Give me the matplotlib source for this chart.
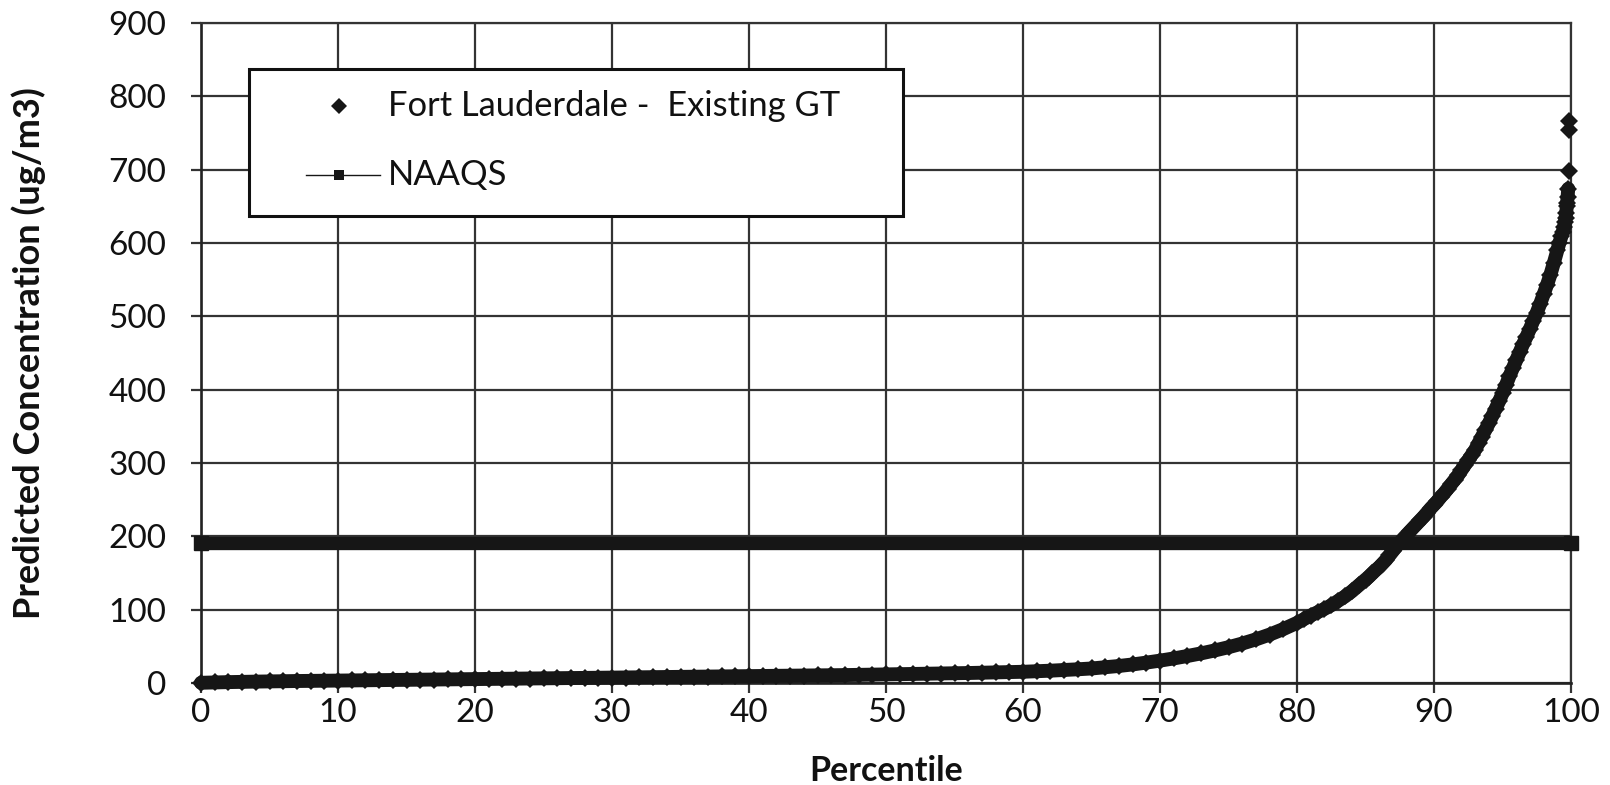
import matplotlib
matplotlib.use('Agg')
import matplotlib.pyplot as plt
from matplotlib.patches import Rectangle
from matplotlib.lines import Line2D

plt.rcParams['font.family'] = ['Lato', 'DejaVu Sans']

# ---- data ----
percentile = [
    0, 1, 2, 3, 4, 5, 6, 7, 8, 9, 10, 11, 12, 13, 14, 15, 16, 17, 18, 19,
    20, 21, 22, 23, 24, 25, 26, 27, 28, 29, 30, 31, 32, 33, 34, 35, 36, 37, 38, 39,
    40, 41, 42, 43, 44, 45, 46, 47, 48, 49, 50, 51, 52, 53, 54, 55, 56, 57, 58, 59,
    60, 61, 62, 63, 64, 65, 66, 67, 68, 69, 70, 71, 72, 73, 74, 75, 76, 77, 78, 79,
    80, 80.5, 81, 81.5, 82, 82.5, 83, 83.5, 84, 84.5,
    85, 85.25, 85.5, 85.75, 86, 86.25, 86.5, 86.75, 87, 87.25, 87.5, 87.75,
    88, 88.25, 88.5, 88.75, 89, 89.25, 89.5, 89.75,
    90, 90.25, 90.5, 90.75, 91, 91.25, 91.5, 91.75, 92, 92.25, 92.5, 92.75,
    93, 93.25, 93.5, 93.75, 94, 94.25, 94.5, 94.75, 95, 95.25, 95.5, 95.75,
    96, 96.25, 96.5, 96.75, 97, 97.25, 97.5, 97.75, 98, 98.25, 98.5, 98.75,
    99, 99.15, 99.3, 99.4, 99.5, 99.55, 99.6, 99.65, 99.7, 99.72, 99.75, 99.8,
    99.82, 99.85, 99.86,
]
concentration = [
    0.3, 0.8, 1.2, 1.6, 1.9, 2.2, 2.5, 2.7, 2.9, 3.1, 3.3, 3.5, 3.7, 3.9, 4.1, 4.3, 4.5, 4.7, 4.9, 5.1,
    5.3, 5.5, 5.7, 5.9, 6.1, 6.3, 6.5, 6.7, 6.9, 7.1, 7.3, 7.5, 7.7, 7.9, 8.1, 8.3, 8.5, 8.7, 8.9, 9.1,
    9.3, 9.5, 9.7, 9.9, 10.1, 10.3, 10.5, 10.8, 11.1, 11.4, 11.7, 12.0, 12.3, 12.6, 12.9, 13.2, 13.6, 14.0, 14.4, 14.8,
    15.3, 16.0, 16.8, 17.7, 18.7, 19.8, 21.5, 23.2, 25.3, 27.8, 30.5, 33.5, 36.8, 40.4, 44.4, 48.8, 53.8, 59.5, 66, 73.5,
    82, 87, 92, 96.5, 101, 106, 112, 118, 125, 133,
    141, 145, 149.5, 154, 158, 163, 168, 174, 180, 186, 191.5, 197,
    202, 207, 212, 217, 222, 227, 232.5, 238,
    243, 248, 254, 259, 265, 271, 277, 283, 290, 297, 304, 311,
    318, 327, 336, 345, 354, 364, 374, 384, 395, 406, 418, 429,
    440, 451, 462, 472, 483, 494, 505, 517, 530, 543, 557, 573,
    590, 600, 609, 615, 622, 628, 634, 641, 650, 655, 663, 674,
    698, 754, 766,
]
naaqs_percentile = [0, 100]
naaqs_value = [191, 191]

x_ticks = [0, 10, 20, 30, 40, 50, 60, 70, 80, 90, 100]
y_ticks = [0, 100, 200, 300, 400, 500, 600, 700, 800, 900]
series_label = "Fort Lauderdale -  Existing GT"
naaqs_label = "NAAQS"
x_label = "Percentile"
y_label = "Predicted Concentration (ug/m3)"

# ---- figure ----
W, H = 1610, 785
fig = plt.figure(figsize=(W / 100, H / 100), dpi=100)
fig.patch.set_facecolor('white')
L, R, T, B = 201, 1571, 23, 683
ax = fig.add_axes([L / W, 1 - B / H, (R - L) / W, (B - T) / H])
ax.set_xlim(0, 100)
ax.set_ylim(0, 900)
ax.set_xticks(x_ticks)
ax.set_yticks(y_ticks)

grid_c = '#333333'
ax.grid(True, color=grid_c, linewidth=1.6, zorder=0)
ax.set_axisbelow(True)
for s in ax.spines.values():
    s.set_color(grid_c)
    s.set_linewidth(1.6)
ax.spines['left'].set_color('#222222')
ax.spines['bottom'].set_color('#222222')
ax.spines['left'].set_linewidth(1.9)
ax.spines['bottom'].set_linewidth(1.9)

ax.tick_params(axis='both', direction='out', length=7, width=1.6, color=grid_c,
               labelsize=24, labelcolor='#111111')
ax.tick_params(axis='y', pad=18)
ax.tick_params(axis='x', pad=4)

dark = '#161616'
# NAAQS line
ax.plot(naaqs_percentile, naaqs_value, color=dark, linewidth=9.6, marker='s',
        markersize=9.6, solid_capstyle='butt', clip_on=False, zorder=3)
# Series: dense diamond markers (band) and separated top points
n_cont = len(percentile) - 3
ax.plot(percentile[:n_cont], concentration[:n_cont], color=dark, linewidth=10.0,
        solid_joinstyle='round', solid_capstyle='round', clip_on=False, zorder=4)
ax.plot(percentile, concentration, linestyle='none', marker='D', markersize=9.5,
        color=dark, markeredgewidth=0, clip_on=False, zorder=4)

ax.set_xlabel(x_label, fontsize=24.5, fontweight='bold', color='#111111')
ax.xaxis.set_label_coords(0.5, (B - 771) / (B - T))
ax.xaxis.label.set_va('center')
ax.set_ylabel(y_label, fontsize=26, fontweight='bold', color='#111111')
ax.yaxis.set_label_coords((29 - L) / (R - L), 0.5)
ax.yaxis.label.set_va('center')

# ---- legend (drawn manually to match box geometry) ----
def ax_x(px):
    return (px - L) / (R - L)

def ax_y(py):
    return (B - py) / (B - T)

lx0, lx1, ly0, ly1 = 249, 903, 69, 216
box = Rectangle((ax_x(lx0), ax_y(ly1)), ax_x(lx1) - ax_x(lx0), ax_y(ly0) - ax_y(ly1),
                transform=ax.transAxes, facecolor='white', edgecolor='#111111',
                linewidth=2.2, zorder=6)
ax.add_patch(box)
ax.add_line(Line2D([ax_x(339)], [ax_y(106)], transform=ax.transAxes, linestyle='none',
                   marker='D', markersize=8.5, color=dark, markeredgewidth=0, zorder=7))
ax.add_line(Line2D([ax_x(306), ax_x(380)], [ax_y(175), ax_y(175)], transform=ax.transAxes,
                   color=dark, linewidth=1.0, zorder=7))
ax.add_line(Line2D([ax_x(339)], [ax_y(175)], transform=ax.transAxes, linestyle='none',
                   marker='s', markersize=7.5, color=dark, markeredgewidth=0, zorder=7))
ax.text(ax_x(388), ax_y(106), series_label, transform=ax.transAxes, fontsize=24.8,
        va='center', ha='left', color='#111111', zorder=7)
ax.text(ax_x(388), ax_y(175), naaqs_label, transform=ax.transAxes, fontsize=24.8,
        va='center', ha='left', color='#111111', zorder=7)

fig.savefig('out.png', dpi=100)
